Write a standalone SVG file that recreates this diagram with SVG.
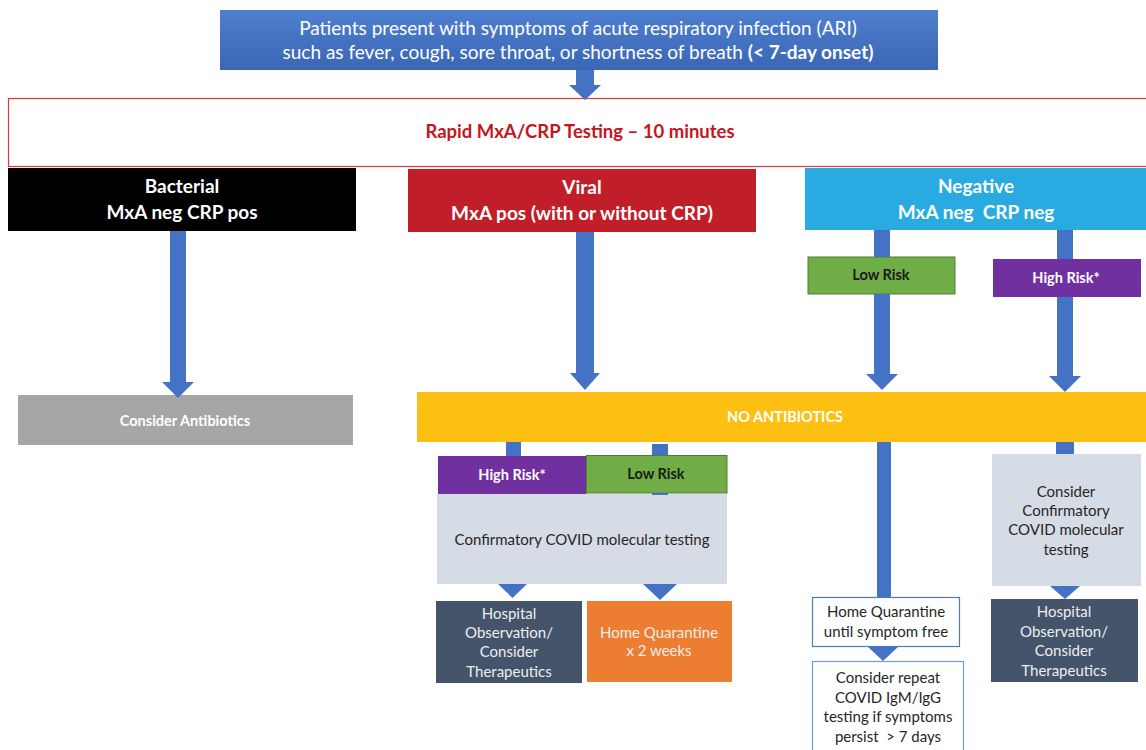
<svg xmlns="http://www.w3.org/2000/svg" width="1146" height="750" viewBox="0 0 1146 750">
<defs>
<linearGradient id="topg" x1="0" y1="0" x2="0" y2="1">
<stop offset="0" stop-color="#4f7fcf"/>
<stop offset="1" stop-color="#3a66b5"/>
</linearGradient>
<style>
text{font-family:Lato,"Open Sans","Liberation Sans",sans-serif;text-anchor:middle}
.t17{font-size:19px}
.b18{font-size:19px;font-weight:bold}
.b13{font-size:14.5px;font-weight:bold}
.r14{font-size:15px}
.w{fill:#ffffff}
.lt{fill:#eeeeee}
.dk{fill:#262626}
.arr{fill:#4472c4}
</style>
</defs>
<rect width="1146" height="750" fill="#ffffff"/>

<g id="start">
<rect x="220" y="10" width="718" height="60" fill="url(#topg)"/>
<text class="t17 w" x="578" y="35">Patients present with symptoms of acute respiratory infection (ARI)</text>
<text class="t17 w" x="578" y="59">such as fever, cough, sore throat, or shortness of breath <tspan font-weight="bold">(&lt; 7-day onset)</tspan></text>
</g>

<g id="rapid-test">
<rect x="8.5" y="98.5" width="1150" height="68" fill="none" stroke="#e03a3a" stroke-width="1.2"/>
<text x="580" y="138" font-size="18.5" font-weight="bold" fill="#c4161c">Rapid MxA/CRP Testing – 10 minutes</text>
</g>

<g id="bacterial">
<rect x="8" y="168" width="348" height="63" fill="#000000"/>
<text class="b18 w" x="182" y="193">Bacterial</text>
<text class="b18 w" x="182" y="219">MxA neg CRP pos</text>
</g>

<g id="viral">
<rect x="408" y="169" width="348" height="63" fill="#c01f2a"/>
<text class="b18 w" x="582" y="194">Viral</text>
<text class="b18 w" x="582" y="220">MxA pos (with or without CRP)</text>
</g>

<g id="negative">
<rect x="805" y="168" width="345" height="62" fill="#29abe2"/>
<text class="b18 w" x="976" y="193">Negative</text>
<text class="b18 w" x="976" y="219">MxA neg&#160; CRP neg</text>
</g>

<g id="neg-low-risk">
<rect x="808" y="257" width="147" height="37" fill="#70ad47" stroke="#507e32" stroke-width="1"/>
<text class="b13" x="881" y="280" fill="#1a1a1a">Low Risk</text>
</g>

<g id="neg-high-risk">
<rect x="993" y="259" width="148" height="38" fill="#7030a0"/>
<text class="b13 w" x="1066" y="283">High Risk*</text>
</g>

<g id="consider-antibiotics">
<rect x="18" y="395" width="335" height="50" fill="#a6a6a6"/>
<text class="b13 w" x="185" y="426" font-size="15">Consider Antibiotics</text>
</g>

<g id="no-antibiotics">
<rect x="417" y="392" width="735" height="50" fill="#fdbf12"/>
<text class="b13 w" x="785" y="422" font-size="13.7">NO ANTIBIOTICS</text>
</g>

<g id="viral-high-risk">
<rect x="438" y="456" width="148" height="38" fill="#7030a0"/>
<text class="b13 w" x="512" y="480">High Risk*</text>
</g>

<g id="viral-low-risk">
<rect x="586.5" y="455.5" width="140.5" height="37.5" fill="#70ad47" stroke="#507e32" stroke-width="1"/>
<text class="b13" x="656" y="479" fill="#1a1a1a">Low Risk</text>
</g>

<g id="viral-confirmatory">
<rect x="437" y="494" width="290" height="90" fill="#d6dce5"/>
<text class="r14 dk" x="582" y="545">Confirmatory COVID molecular testing</text>
</g>

<g id="viral-hospital">
<rect x="436" y="601" width="146" height="82" fill="#44546a"/>
<text class="r14 lt" x="509" y="619">Hospital</text>
<text class="r14 lt" x="509" y="638">Observation/</text>
<text class="r14 lt" x="509" y="657">Consider</text>
<text class="r14 lt" x="509" y="677">Therapeutics</text>
</g>

<g id="viral-home">
<rect x="587" y="601" width="145" height="81" fill="#ed7d31"/>
<text class="r14 lt" x="659" y="638">Home Quarantine</text>
<text class="r14 lt" x="659" y="656">x 2 weeks</text>
</g>

<g id="neg-home">
<rect x="812.5" y="597.5" width="147" height="49" fill="#ffffff" stroke="#4a7cc4" stroke-width="1.2"/>
<text class="r14 dk" x="886" y="617">Home Quarantine</text>
<text class="r14 dk" x="886" y="637">until symptom free</text>
</g>

<g id="neg-repeat">
<rect x="812.5" y="661.5" width="151" height="100" fill="#ffffff" stroke="#6a9fd6" stroke-width="1.2"/>
<text class="r14 dk" x="888" y="683">Consider repeat</text>
<text class="r14 dk" x="888" y="703">COVID IgM/IgG</text>
<text class="r14 dk" x="888" y="722">testing if symptoms</text>
<text class="r14 dk" x="888" y="742">persist&#160; &gt; 7 days</text>
</g>

<g id="neg-confirmatory">
<rect x="992" y="454" width="149" height="132" fill="#d6dce5"/>
<text class="r14 dk" x="1066" y="497">Consider</text>
<text class="r14 dk" x="1066" y="516">Confirmatory</text>
<text class="r14 dk" x="1066" y="535">COVID molecular</text>
<text class="r14 dk" x="1066" y="555">testing</text>
</g>

<g id="neg-hospital">
<rect x="991" y="599" width="147" height="83" fill="#44546a"/>
<text class="r14 lt" x="1064" y="617">Hospital</text>
<text class="r14 lt" x="1064" y="637">Observation/</text>
<text class="r14 lt" x="1064" y="656">Consider</text>
<text class="r14 lt" x="1064" y="676">Therapeutics</text>
</g>

<g id="connectors">
<path class="arr" d="M576,70 H594 V85 H601 L585,100 L569,85 H576 Z"/>
<path class="arr" d="M170,231 H186 V382 H194 L178,398 L162,382 H170 Z"/>
<path class="arr" d="M576,232 H594 V373 H600 L585,390 L570,373 H576 Z"/>
<rect class="arr" x="874" y="230" width="16" height="27"/>
<path class="arr" d="M874,294 H890 V374 H898 L882,390 L866,374 H874 Z"/>
<rect class="arr" x="1057" y="230" width="16" height="29"/>
<path class="arr" d="M1057,297 H1073 V376 H1081 L1065,392 L1049,376 H1057 Z"/>
<rect class="arr" x="506" y="442" width="15" height="14"/>
<rect class="arr" x="652" y="444" width="16" height="11"/>
<rect class="arr" x="652" y="493" width="16" height="2"/>
<path class="arr" d="M498,584 H527 L512.5,598 Z"/>
<path class="arr" d="M643,584 H677 L660,600 Z"/>
<rect class="arr" x="877" y="442" width="14" height="155"/>
<path class="arr" d="M868,647 H898 L883,661 Z"/>
<rect class="arr" x="1056" y="442" width="18" height="12"/>
<path class="arr" d="M1050,586 H1080 L1065,599 Z"/>
</g>
</svg>
